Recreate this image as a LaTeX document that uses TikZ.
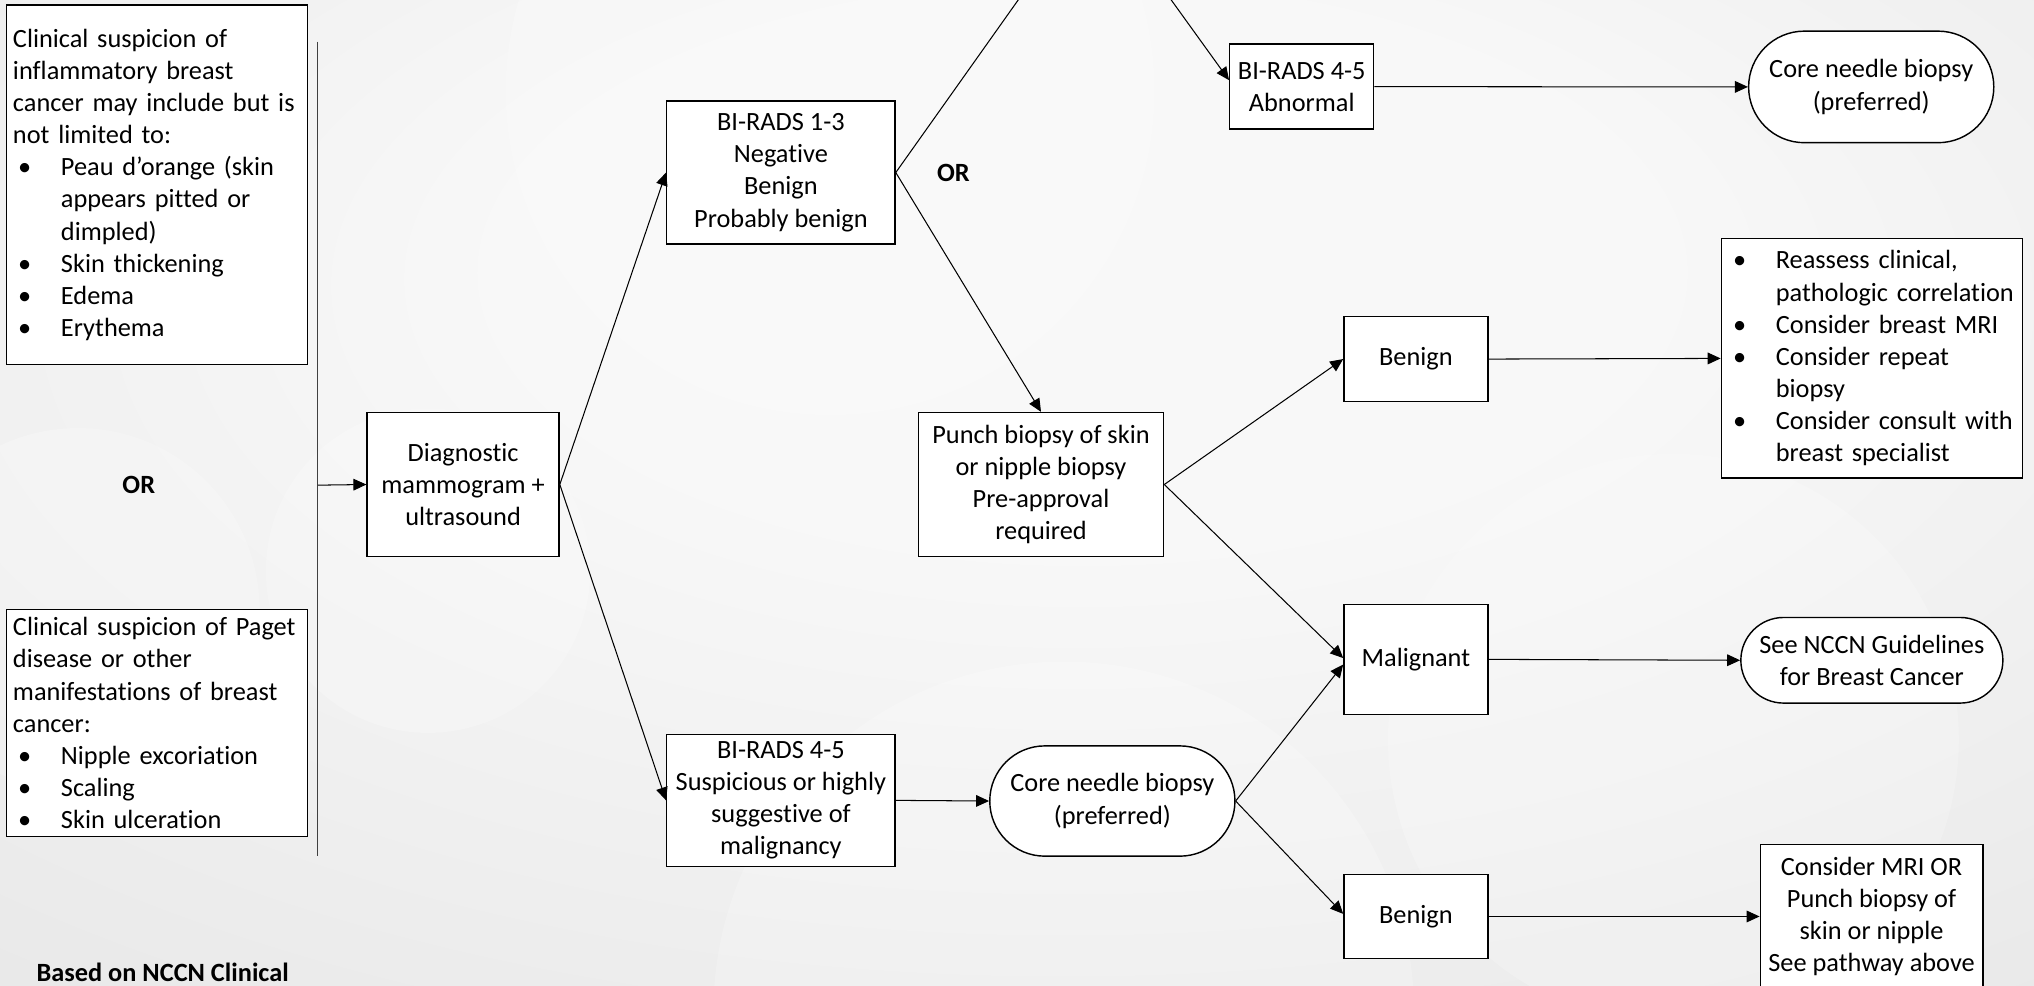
\documentclass[tikz,border=0pt]{standalone}
\usepackage{fontspec}
\setmainfont{Carlito}[Ligatures=NoCommon]
\usetikzlibrary{arrows.meta,calc}
\definecolor{bgIn}{HTML}{F8F8F8}
\definecolor{bgMid}{HTML}{E8E8E8}
\definecolor{bgOut}{HTML}{C9C9C9}
\pgfdeclareradialshading{bgshade}{\pgfpoint{2bp}{14bp}}{color(0bp)=(bgIn); color(14bp)=(bgIn); color(42bp)=(bgMid); color(74bp)=(bgOut)}
\newcommand{\myfs}{\fontsize{20.3}{24.8}\selectfont}
\newcommand{\mybul}{\makebox[37pt][l]{\hspace*{4pt}\textbullet}}
\newcommand{\myind}{\hspace*{37pt}}
\tikzset{
  box/.style={draw=black, line width=1.1pt, fill=white, inner sep=0pt, align=center, font=\myfs},
  listbox/.style={box, align=left, inner xsep=5pt, text width=222pt},
  stadium/.style={box, rounded corners=#1},
  ortext/.style={font=\myfs\bfseries, inner sep=0pt},
  conn/.style={draw=black, line width=0.8pt, -{Triangle[length=10pt,width=9pt]}},
  plain/.style={draw=black, line width=0.8pt},
  glow/.style={fill=white, opacity=0.22, draw=none}
}
\begin{document}
\begin{tikzpicture}[x=1pt,y=-1pt]
\useasboundingbox (0,0) rectangle (1568,760);
\shade[shading=bgshade] (0,0) rectangle (1568,760);
\begin{scope}
\clip (0,0) rectangle (1568,760);
% faint decorative circles
\fill[glow] (640,70) circle[radius=250];
\fill[glow] (330,440) circle[radius=125];
\fill[glow] (820,780) circle[radius=270];
\fill[glow] (1290,570) circle[radius=220];
\fill[glow] (60,470) circle[radius=140];

% left column
\node[listbox, minimum width=232pt, minimum height=277pt] (inflam) at (121,142.5) {%
\mbox{Clinical suspicion of}\\
\mbox{inflammatory breast}\\
\mbox{cancer may include but is}\\
\mbox{not limited to:}\\
\mbox{\mybul Peau d’orange (skin}\\
\mbox{\myind appears pitted or}\\
\mbox{\myind dimpled)}\\
\mbox{\mybul Skin thickening}\\
\mbox{\mybul Edema}\\
\mbox{\mybul Erythema}};
\node[ortext] (orL) at (107,374) {OR};
\node[listbox, minimum width=232pt, minimum height=175pt] (paget) at (121,557.5) {%
\mbox{Clinical suspicion of Paget}\\
\mbox{disease or other}\\
\mbox{manifestations of breast}\\
\mbox{cancer:}\\
\mbox{\mybul Nipple excoriation}\\
\mbox{\mybul Scaling}\\
\mbox{\mybul Skin ulceration}};
\coordinate (vtop) at (245,32);
\coordinate (vbot) at (245,660);
\coordinate (vmid) at (245,374);

% main nodes
\node[box, minimum width=148pt, minimum height=111pt] (diag) at (357,373.5) {Diagnostic\\mammogram +\\ultrasound};
\node[box, minimum width=176pt, minimum height=110pt] (br13) at (602,133) {BI-RADS 1-3\\Negative\\Benign\\Probably benign};
\node[box, minimum width=176pt, minimum height=102pt] (br45s) at (602,617) {BI-RADS 4-5\\Suspicious or highly\\suggestive of\\malignancy};
\node[ortext] (orM) at (735,133) {OR};
\node[box, minimum width=111pt, minimum height=65.6pt] (abn) at (1003.5,66.8) {BI-RADS 4-5\\Abnormal};
\node[stadium=43pt, minimum width=189pt, minimum height=86pt] (coreT) at (1442.5,67) {Core needle biopsy\\(preferred)};
\node[box, minimum width=189pt, minimum height=111pt] (punch) at (802.5,373.5) {Punch biopsy of skin\\or nipple biopsy\\Pre-approval\\required};
\node[box, minimum width=111pt, minimum height=65.7pt] (ben1) at (1091.5,276.8) {Benign};
\node[listbox, minimum width=232pt, minimum height=184.6pt] (list) at (1443,276.3) {%
\mbox{\mybul Reassess clinical,}\\
\mbox{\myind pathologic correlation}\\
\mbox{\mybul Consider breast MRI}\\
\mbox{\mybul Consider repeat}\\
\mbox{\myind biopsy}\\
\mbox{\mybul Consider consult with}\\
\mbox{\myind breast specialist}};
\node[box, minimum width=111pt, minimum height=84.6pt] (mal) at (1091.5,508.3) {Malignant};
\node[stadium=33pt, minimum width=202pt, minimum height=66pt] (nccn) at (1443,509) {See NCCN Guidelines\\for Breast Cancer};
\node[stadium=42.5pt, minimum width=189pt, minimum height=85pt] (core2) at (857.5,617.5) {Core needle biopsy\\(preferred)};
\node[box, minimum width=111pt, minimum height=65pt] (ben2) at (1091.5,706.5) {Benign};
\node[box, minimum width=171.5pt, minimum height=111pt] (mri) at (1442.75,706.5) {Consider MRI OR\\Punch biopsy of\\skin or nipple\\See pathway above};
\node[font=\myfs\bfseries, anchor=base west, inner sep=0pt] (based) at (28,757) {Based on NCCN Clinical};

% free ends above the frame
\coordinate (upA) at (792,-10);
\coordinate (upB) at (895.7,-10);

% connectors
\draw[plain, draw=black!75] (vtop) -- (vbot);
\draw[conn] (vmid) -- (diag.west);
\draw[conn] (diag.east) -- (br13.west);
\draw[conn] (diag.east) -- (br45s.west);
\draw[plain] (br13.east) -- (upA);
\draw[conn] (upB) -- ([yshift=5pt]abn.west);
\draw[conn] (abn.east) -- (coreT.west);
\draw[conn] (br13.east) -- (punch.north);
\draw[conn] (punch.east) -- (ben1.west);
\draw[conn] (punch.east) -- ([yshift=1pt]mal.west);
\draw[conn] (ben1.east) -- (list.west);
\draw[conn] (mal.east) -- (nccn.west);
\draw[conn] (br45s.east) -- (core2.west);
\draw[conn] (core2.east) -- ([yshift=-4pt]mal.west);
\draw[conn] (core2.east) -- ([yshift=2pt]ben2.west);
\draw[conn] (ben2.east) -- (mri.west);
\end{scope}
\end{tikzpicture}
\end{document}
